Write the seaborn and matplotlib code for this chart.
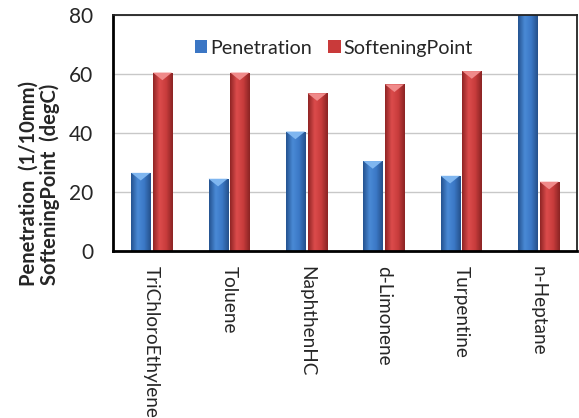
import matplotlib
matplotlib.use("Agg")
import matplotlib.pyplot as plt
from matplotlib.colors import LinearSegmentedColormap
from matplotlib.patches import Polygon
import seaborn as sns
import pandas as pd
import numpy as np

solvents = ["TriChloroEthylene", "Toluene", "NaphthenHC", "d-Limonene", "Turpentine", "n-Heptane"]
penetration = [26.5, 24.5, 40.5, 30.5, 25.5, 90.0]
softening_point = [60.5, 60.5, 53.5, 56.5, 61.0, 23.5]
series_names = ["Penetration", "SofteningPoint"]
y_ticks = [0, 20, 40, 60, 80]
y_max = 80

df = pd.DataFrame({
    "Solvent": solvents * 2,
    "Series": [series_names[0]] * len(solvents) + [series_names[1]] * len(solvents),
    "Value": penetration + softening_point,
})

sns.set_style("white")
plt.rcParams["font.family"] = ["Lato", "DejaVu Sans"]

fig = plt.figure(figsize=(5.79, 4.18), dpi=100)
ax = fig.add_axes([0.195, 0.3995, 0.8015, 0.5645])

palette = {"Penetration": "#3b76c4", "SofteningPoint": "#c93a3a"}
sns.barplot(data=df, x="Solvent", y="Value", hue="Series", palette=palette,
            width=0.56, gap=0.12, ax=ax, edgecolor="none", saturation=1)

# cylinder-like shading on each bar with a light chevron on top
shades = {
    "Penetration": (["#24528f", "#4a8ad6", "#3b78c6", "#25508a"], "#7fb6f0"),
    "SofteningPoint": (["#8f2424", "#dc4c4c", "#c83c3c", "#8a2424"], "#f08a8a"),
}
grad = np.linspace(0, 1, 64).reshape(1, -1)
bars = [p for p in ax.patches if p.get_height() > 0]
for i, bar in enumerate(bars):
    series = series_names[0] if i < len(solvents) else series_names[1]
    cols, top_col = shades[series]
    cmap = LinearSegmentedColormap.from_list(series, cols)
    x0, w, h = bar.get_x(), bar.get_width(), bar.get_height()
    top = min(h, y_max)
    img = ax.imshow(grad, cmap=cmap, aspect="auto", extent=[x0, x0 + w, 0, top],
                    zorder=bar.get_zorder() + 0.1, interpolation="bicubic")
    img.set_clip_path(bar)
    if h <= y_max:
        tri = Polygon([[x0, h], [x0 + w, h], [x0 + w / 2, h - 2.6]], closed=True,
                      facecolor=top_col, edgecolor="none", zorder=bar.get_zorder() + 0.2)
        ax.add_patch(tri)

ax.set_xlim(-0.5, len(solvents) - 0.5)
ax.set_ylim(0, y_max)
ax.set_yticks(y_ticks)
ax.tick_params(axis="y", labelsize=15, length=5, width=1.3, direction="out", pad=9)
ax.yaxis.grid(True, color="#c8c8c8", linewidth=1)
ax.set_axisbelow(True)

ax.set_xticks(range(len(solvents)))
ax.set_xticklabels(solvents, rotation=270, fontsize=13.7)
ax.tick_params(axis="x", length=0, pad=11)
ax.set_xticks(np.arange(-0.5, len(solvents)), minor=True)
ax.tick_params(axis="x", which="minor", length=5, width=1.3, direction="out")

ax.set_xlabel("")
ax.set_ylabel("Penetration  (1/10mm)\nSofteningPoint  (degC)", fontsize=14.5,
              fontweight="bold", linespacing=1.0)
ax.yaxis.set_label_coords(-0.115, 0.284)

for side in ["left", "bottom"]:
    ax.spines[side].set_linewidth(2)
    ax.spines[side].set_color("black")
for side in ["top", "right"]:
    ax.spines[side].set_linewidth(1.3)
    ax.spines[side].set_color("#222222")
    ax.spines[side].set_visible(True)

leg = ax.legend(loc="center", bbox_to_anchor=(0.476, 0.86), ncol=2, frameon=False,
                fontsize=14.2, handlelength=0.65, handleheight=0.65, handletextpad=0.15,
                columnspacing=0.8, borderpad=0)

fig.savefig("out.png", dpi=100)
